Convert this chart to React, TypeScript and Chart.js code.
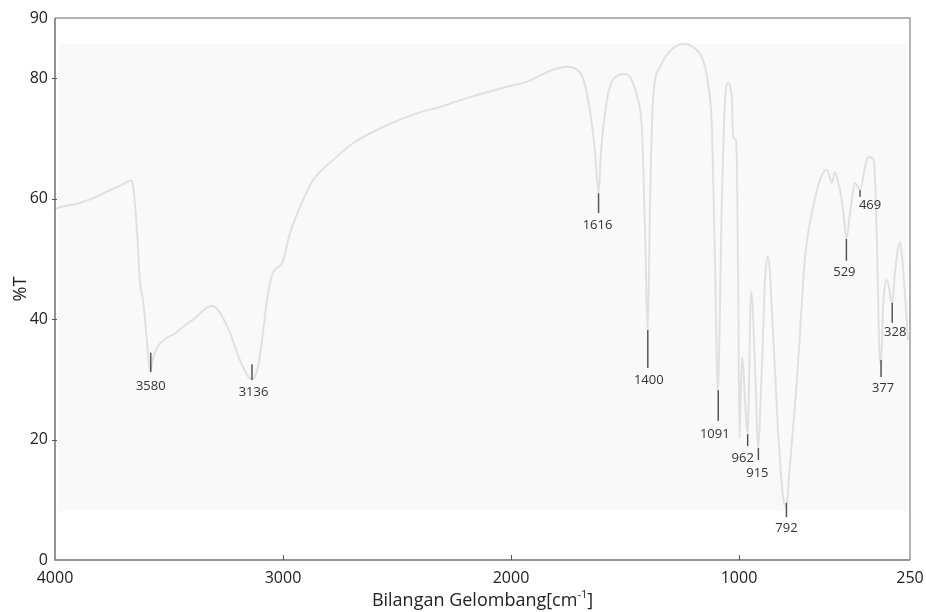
import React, { useEffect, useRef } from "react";
import { Chart, registerables } from "chart.js";
Chart.register(...registerables);

// FTIR spectrum (wavenumber in cm-1, transmittance in %T)
const wavenumbers = [
  4000, 3991, 3900, 3833, 3759, 3700, 3667, 3658, 3640, 3627, 3614, 3596, 3583,
  3570, 3553, 3509, 3482, 3439, 3395, 3311, 3285, 3232, 3189, 3136, 3110, 3088,
  3070, 3044, 3004, 2969, 2912, 2868, 2781, 2693, 2561, 2368, 2342, 2193, 2004,
  1930, 1816, 1754, 1711, 1684, 1654, 1632, 1616, 1605, 1579, 1553, 1500, 1478,
  1447, 1425, 1412, 1400, 1390, 1377, 1346, 1289, 1237, 1202, 1158, 1136, 1118,
  1105, 1093, 1075, 1061, 1048, 1031, 1026, 1013, 1009, 1003, 998, 987, 962, 947,
  925, 917, 899, 886, 873, 851, 829, 807, 794, 776, 746, 732, 711, 675, 645, 614,
  592, 579, 561, 553, 541, 529, 513, 491, 469, 447, 434, 417, 408, 395, 386, 377,
  368, 351, 328, 316, 294, 281, 259,
];
const transmittance = [
  58.2, 58.4, 59.2, 60.1, 61.4, 62.4, 63.0, 62.2, 54.3, 46.0, 43.2, 36.0, 31.2,
  33.5, 35.2, 36.9, 37.4, 38.7, 39.9, 42.2, 41.5, 37.7, 33.2, 30.0, 32.0, 37.7,
  43.2, 47.7, 49.3, 54.3, 59.8, 63.1, 66.4, 69.2, 71.9, 74.7, 74.9, 76.7, 78.7,
  79.4, 81.4, 81.9, 81.4, 80.0, 74.7, 68.0, 61.0, 68.0, 76.4, 79.7, 80.7, 80.2,
  76.9, 70.9, 54.3, 38.2, 59.8, 76.4, 81.9, 85.0, 85.7, 85.2, 83.0, 79.2, 70.9,
  48.7, 28.2, 59.8, 76.4, 79.2, 76.4, 70.2, 69.7, 65.3, 43.2, 20.3, 33.7, 21.0, 44.6,
  27.0, 18.6, 32.7, 46.5, 50.4, 38.2, 21.6, 10.5, 8.8, 16.1, 30.0, 38.0, 50.0, 58.6, 63.1, 64.8,
  62.6, 64.4, 62.0, 60.6, 57.3, 53.3, 57.6, 62.6, 61.4, 65.3, 66.9, 66.8, 66.1, 53.0, 36.5, 32.5,
  42.0, 46.5, 42.7, 47.7, 52.8, 48.7, 36.5,
];

const xTicks = [4000, 3000, 2000, 1000, 250];
const yTicks = [0, 20, 40, 60, 80, 90];

const peakLabels = ["3580", "3136", "1616", "1400", "1091", "962", "915", "792", "529", "469", "377", "328"];
const peakWavenumbers = [3580, 3136, 1616, 1400, 1091, 962, 915, 792, 529, 469, 377, 328];
const peakTickTop = [34.4, 32.5, 60.9, 38.2, 28.2, 20.9, 18.6, 9.5, 53.3, 61.4, 33.2, 42.7];
const peakTickBottom = [31.2, 29.9, 57.6, 31.9, 23.1, 18.9, 16.6, 7.1, 49.7, 60.3, 30.4, 39.4];

// light background band of the spectrum window
const bandWavenumbers = [3987, 259];
const bandTransmittance = [8.1, 85.7];

// label placement relative to tick bottom (px)
const labelOffsets: [number, number][] = [
  [0, 14], [1.5, 12], [-1, 12], [1, 12], [-3.5, 13], [-5, 12], [-1, 13], [0, 11],
  [-2, 12], [10, 8], [2, 11], [3, 10],
];

const FONT = "'Open Sans', 'DejaVu Sans', sans-serif";

const decorPlugin = {
  id: "decor",
  beforeDatasetsDraw(chart: any) {
    const { ctx, scales } = chart;
    const x = scales.x, y = scales.y;
    const x0 = x.getPixelForValue(bandWavenumbers[0]);
    const x1 = x.getPixelForValue(bandWavenumbers[1]);
    const y0 = y.getPixelForValue(bandTransmittance[1]);
    const y1 = y.getPixelForValue(bandTransmittance[0]);
    ctx.save();
    ctx.fillStyle = "#f9f9f9";
    ctx.fillRect(x0, y0, x1 - x0, y1 - y0);
    ctx.restore();
  },
  afterDatasetsDraw(chart: any) {
    const { ctx, scales, chartArea } = chart;
    const x = scales.x, y = scales.y;
    const { left, right, top, bottom } = chartArea;
    ctx.save();
    // frame
    ctx.lineWidth = 1.5;
    ctx.strokeStyle = "#9a9a9a";
    ctx.beginPath();
    ctx.moveTo(left, top);
    ctx.lineTo(right, top);
    ctx.lineTo(right, bottom);
    ctx.stroke();
    ctx.strokeStyle = "#707070";
    ctx.beginPath();
    ctx.moveTo(left, top);
    ctx.lineTo(left, bottom);
    ctx.lineTo(right, bottom);
    ctx.stroke();
    // tick marks
    ctx.lineWidth = 1;
    ctx.strokeStyle = "#555";
    yTicks.forEach((v) => {
      if (v === 0 || v === 90) return;
      const py = Math.round(y.getPixelForValue(v)) + 0.5;
      ctx.beginPath();
      ctx.moveTo(left - 3, py);
      ctx.lineTo(left + 2, py);
      ctx.stroke();
    });
    xTicks.forEach((v) => {
      if (v === 4000 || v === 250) return;
      const px = Math.round(x.getPixelForValue(v)) + 0.5;
      ctx.beginPath();
      ctx.moveTo(px, bottom);
      ctx.lineTo(px, bottom - 5);
      ctx.stroke();
    });
    // peak markers and labels
    ctx.font = `13px ${FONT}`;
    ctx.textAlign = "center";
    ctx.textBaseline = "middle";
    peakLabels.forEach((label, i) => {
      const px = x.getPixelForValue(peakWavenumbers[i]);
      const pt = y.getPixelForValue(peakTickTop[i]);
      const pb = y.getPixelForValue(peakTickBottom[i]);
      ctx.strokeStyle = "#555";
      ctx.lineWidth = 1.5;
      ctx.beginPath();
      ctx.moveTo(px, pt);
      ctx.lineTo(px, pb);
      ctx.stroke();
      ctx.fillStyle = "#333";
      ctx.fillText(label, px + labelOffsets[i][0], pb + labelOffsets[i][1]);
    });
    // axis titles
    ctx.fillStyle = "#222";
    ctx.font = `18px ${FONT}`;
    ctx.textBaseline = "alphabetic";
    ctx.textAlign = "left";
    const main = "Bilangan Gelombang[cm";
    const sup = "-1";
    const end = "]";
    const wMain = ctx.measureText(main).width;
    const wEnd = ctx.measureText(end).width;
    ctx.font = `11px ${FONT}`;
    const wSup = ctx.measureText(sup).width;
    const total = wMain + wSup + wEnd;
    const cx = (left + right) / 2;
    const by = bottom + 46;
    let sx = cx - total / 2;
    ctx.font = `18px ${FONT}`;
    ctx.fillText(main, sx, by);
    sx += wMain;
    ctx.font = `11px ${FONT}`;
    ctx.fillText(sup, sx, by - 8);
    sx += wSup;
    ctx.font = `18px ${FONT}`;
    ctx.fillText(end, sx, by);
    // y title
    ctx.translate(21, (top + bottom) / 2);
    ctx.rotate(-Math.PI / 2);
    ctx.textAlign = "center";
    ctx.textBaseline = "middle";
    ctx.fillText("%T", 0, 0);
    ctx.restore();
  },
};

export default function App() {
  const ref = useRef<HTMLCanvasElement | null>(null);
  useEffect(() => {
    document.body.style.margin = "0";
    if (!ref.current) return;
    const chart = new Chart(ref.current, {
      type: "line",
      data: {
        datasets: [
          {
            data: wavenumbers.map((w, i) => ({ x: w, y: transmittance[i] })),
            borderColor: "#e0e0e0",
            borderWidth: 2,
            pointRadius: 0,
            cubicInterpolationMode: "monotone",
            fill: false,
          },
        ],
      },
      options: {
        animation: false,
        responsive: false,
        layout: { padding: { top: 18, right: 16, left: 0, bottom: 0 } },
        plugins: { legend: { display: false }, tooltip: { enabled: false } },
        scales: {
          x: {
            type: "linear",
            reverse: true,
            min: 250,
            max: 4000,
            afterBuildTicks: (s: any) => {
              s.ticks = xTicks.map((v) => ({ value: v }));
            },
            afterFit: (s: any) => {
              s.height = 52;
              s.paddingLeft = 0;
              s.paddingRight = 0;
            },
            grid: { display: false, drawTicks: false },
            border: { display: false },
            ticks: {
              autoSkip: false,
              maxRotation: 0,
              padding: 9,
              color: "#222",
              font: { family: FONT, size: 16 },
              callback: (v: any) => String(v),
            },
          },
          y: {
            type: "linear",
            min: 0,
            max: 90,
            afterBuildTicks: (s: any) => {
              s.ticks = yTicks.map((v) => ({ value: v }));
            },
            afterFit: (s: any) => {
              s.width = 55;
              s.paddingTop = 0;
              s.paddingBottom = 0;
            },
            grid: { display: false, drawTicks: false },
            border: { display: false },
            ticks: {
              autoSkip: false,
              padding: 7,
              color: "#222",
              font: { family: FONT, size: 16 },
              callback: (v: any) => String(v),
            },
          },
        },
      },
      plugins: [decorPlugin],
    } as any);
    return () => chart.destroy();
  }, []);
  return (
    <>
      <style>{"body{margin:0}"}</style>
      <canvas ref={ref} width={926} height={612} style={{ display: "block" }} />
    </>
  );
}
